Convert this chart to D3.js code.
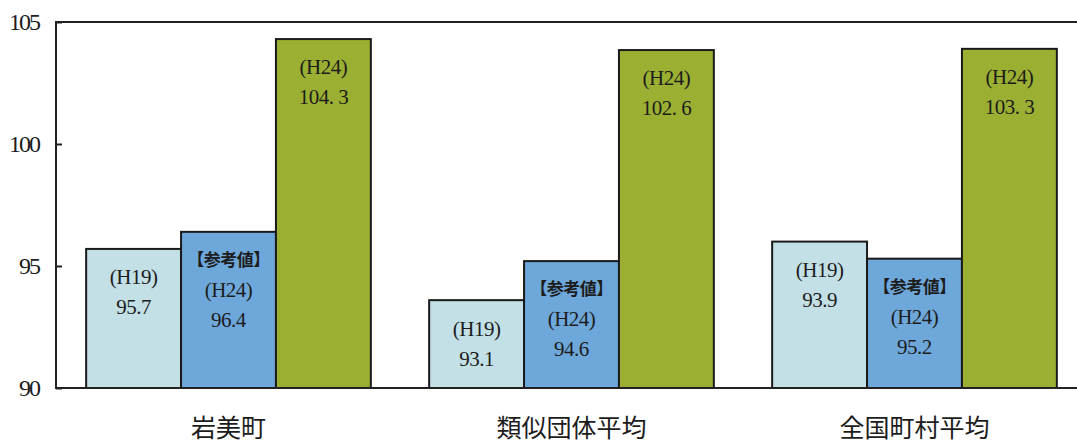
<!DOCTYPE html>
<html><head><meta charset="utf-8">
<script src="https://cdn.jsdelivr.net/npm/d3@7"></script>
<style>
html,body{margin:0;padding:0;background:#fff;}
svg{display:block;}
</style></head>
<body>
<svg id="c" width="1077" height="444"></svg>
<script>
// ---- data ----
const categories = ["岩美町", "類似団体平均", "全国町村平均"];
const seriesKeys = ["h19", "h24ref", "h24"];
// bar heights as drawn in the picture
const h19Values    = [95.7, 93.6, 96.0];
const h24refValues = [96.4, 95.2, 95.3];
const h24Values    = [104.3, 103.85, 103.9];
// printed labels
const h19Labels    = ["95.7", "93.1", "93.9"];
const h24refLabels = ["96.4", "94.6", "95.2"];
const h24Labels    = ["104. 3", "102. 6", "103. 3"];
const yTicks = [90, 95, 100, 105];

const colors = {h19: "#c3e0e6", h24ref: "#6ea8da", h24: "#9bb032"};

(function () {
const svg = d3.select("#c");
const mLeft = 56, mRight = 1086, mTop = 22, mBottom = 388;

const y = d3.scaleLinear().domain([90, 105]).range([mBottom, mTop]);
const x0 = d3.scaleBand().domain(categories).range([mLeft + 1, mRight]).paddingInner(0.17).paddingOuter(0.085);
const x1 = d3.scaleBand().domain(seriesKeys).range([0, x0.bandwidth()]).padding(0);

const rows = categories.map((c, i) => ({
  cat: c,
  bars: [
    {key: "h19", v: h19Values[i], lines: ["(H19)", h19Labels[i]]},
    {key: "h24ref", v: h24refValues[i], lines: ["【参考値】", "(H24)", h24refLabels[i]]},
    {key: "h24", v: h24Values[i], lines: ["(H24)", h24Labels[i]]}
  ]
}));

// frame
svg.append("line").attr("x1", mLeft).attr("x2", 1077).attr("y1", mTop).attr("y2", mTop)
  .attr("stroke", "#222").attr("stroke-width", 2);

const g = svg.append("g").selectAll("g").data(rows).join("g")
  .attr("transform", d => `translate(${x0(d.cat)},0)`);

const bg = g.selectAll("g.bar").data(d => d.bars).join("g").attr("class", "bar");
bg.append("rect")
  .attr("x", d => x1(d.key))
  .attr("width", x1.bandwidth())
  .attr("y", d => y(d.v))
  .attr("height", d => y(90) - y(d.v))
  .attr("fill", d => colors[d.key])
  .attr("stroke", "#1a1a1a").attr("stroke-width", 2);

bg.each(function(d) {
  const sel = d3.select(this);
  const cx = x1(d.key) + x1.bandwidth() / 2;
  const y0 = y(d.v) + 28;
  d.lines.forEach((t, j) => {
    const isRef = t.startsWith("【");
    sel.append("text")
      .attr("x", cx)
      .attr("y", y0 + j * 30)
      .attr("dy", "0.35em")
      .attr("text-anchor", "middle")
      .attr("font-family", isRef ? "'Noto Sans CJK JP', sans-serif" : "'Liberation Serif', 'DejaVu Serif', serif")
      .attr("font-weight", isRef ? "bold" : "normal")
      .attr("font-size", isRef ? 17 : 21)
      .attr("letter-spacing", isRef ? "-0.5" : "-0.5")
      .attr("fill", "#1c1c1c")
      .text(t);
  });
});

// y axis
const yAxis = d3.axisLeft(y).tickValues(yTicks).tickSize(-6).tickPadding(17).tickFormat(d3.format("d"));
const ya = svg.append("g").attr("transform", `translate(${mLeft},0)`).call(yAxis);
ya.select(".domain").remove();
ya.selectAll(".tick line").attr("stroke", "#222").attr("stroke-width", 2);
ya.selectAll(".tick text").attr("font-family", "'Liberation Serif', serif").attr("font-size", 24)
  .attr("letter-spacing", "-2").attr("fill", "#1c1c1c");
svg.append("line").attr("x1", mLeft).attr("x2", mLeft).attr("y1", mTop - 1).attr("y2", mBottom + 1)
  .attr("stroke", "#222").attr("stroke-width", 2);

// x axis
const xAxis = d3.axisBottom(x0).tickSize(0).tickPadding(31);
const xa = svg.append("g").attr("transform", `translate(0,${mBottom})`).call(xAxis);
xa.select(".domain").remove();
xa.selectAll(".tick text").attr("font-family", "'Noto Sans CJK JP', sans-serif").attr("font-size", 25)
  .attr("fill", "#1c1c1c");
svg.append("line").attr("x1", mLeft).attr("x2", 1077).attr("y1", mBottom).attr("y2", mBottom)
  .attr("stroke", "#222").attr("stroke-width", 2);
})();
</script>
</body></html>
